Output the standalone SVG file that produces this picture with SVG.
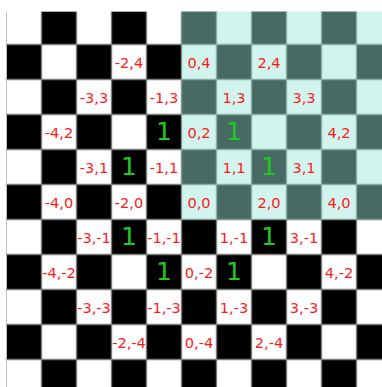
<svg xmlns="http://www.w3.org/2000/svg" width="382" height="387" viewBox="0 0 382 387">
<style>
.lbl{font-family:"DejaVu Sans","Liberation Sans",sans-serif;font-size:14.6px;fill:#ff1a1a;text-anchor:middle}
.one{font-family:"DejaVu Sans","Liberation Sans",sans-serif;font-size:25px;fill:#22c822;text-anchor:middle}
.grid line{stroke:#7c7c7c;stroke-width:1.4}
</style>
<defs>
<pattern id="chk" patternUnits="userSpaceOnUse" x="6.5" y="9.5" width="70" height="70">
<rect x="35" y="0" width="35" height="35" fill="#000"/>
<rect x="0" y="35" width="35" height="35" fill="#000"/>
</pattern>
</defs>
<rect width="382" height="387" fill="#fff"/>
<g id="board">
<rect x="6.5" y="11.7" width="375.5" height="375.3" fill="url(#chk)"/>
</g>
<g id="grid" class="grid">
<line x1="41.5" y1="11.7" x2="41.5" y2="387"/>
<line x1="76.5" y1="11.7" x2="76.5" y2="387"/>
<line x1="111.5" y1="11.7" x2="111.5" y2="387"/>
<line x1="146.5" y1="11.7" x2="146.5" y2="387"/>
<line x1="181.5" y1="11.7" x2="181.5" y2="387"/>
<line x1="216.5" y1="11.7" x2="216.5" y2="387"/>
<line x1="251.5" y1="11.7" x2="251.5" y2="387"/>
<line x1="286.5" y1="11.7" x2="286.5" y2="387"/>
<line x1="321.5" y1="11.7" x2="321.5" y2="387"/>
<line x1="356.5" y1="11.7" x2="356.5" y2="387"/>
<line x1="6.5" y1="44.5" x2="382" y2="44.5"/>
<line x1="6.5" y1="79.5" x2="382" y2="79.5"/>
<line x1="6.5" y1="114.5" x2="382" y2="114.5"/>
<line x1="6.5" y1="149.5" x2="382" y2="149.5"/>
<line x1="6.5" y1="184.5" x2="382" y2="184.5"/>
<line x1="6.5" y1="219.5" x2="382" y2="219.5"/>
<line x1="6.5" y1="254.5" x2="382" y2="254.5"/>
<line x1="6.5" y1="289.5" x2="382" y2="289.5"/>
<line x1="6.5" y1="324.5" x2="382" y2="324.5"/>
<line x1="6.5" y1="359.5" x2="382" y2="359.5"/>
</g>
<g id="quadrant">
<rect x="181.5" y="11.7" width="200.5" height="207.8" fill="#9de6d9" fill-opacity="0.46"/>
</g>
<g id="labels" class="lbl">
<text x="129" y="67.6">-2,4</text>
<text x="199" y="67.6">0,4</text>
<text x="269" y="67.6">2,4</text>
<text x="94" y="102.6">-3,3</text>
<text x="164" y="102.6">-1,3</text>
<text x="234" y="102.6">1,3</text>
<text x="304" y="102.6">3,3</text>
<text x="59" y="137.6">-4,2</text>
<text x="199" y="137.6">0,2</text>
<text x="339" y="137.6">4,2</text>
<text x="94" y="172.6">-3,1</text>
<text x="164" y="172.6">-1,1</text>
<text x="234" y="172.6">1,1</text>
<text x="304" y="172.6">3,1</text>
<text x="59" y="207.6">-4,0</text>
<text x="129" y="207.6">-2,0</text>
<text x="199" y="207.6">0,0</text>
<text x="269" y="207.6">2,0</text>
<text x="339" y="207.6">4,0</text>
<text x="94" y="242.6">-3,-1</text>
<text x="164" y="242.6">-1,-1</text>
<text x="234" y="242.6">1,-1</text>
<text x="304" y="242.6">3,-1</text>
<text x="59" y="277.6">-4,-2</text>
<text x="199" y="277.6">0,-2</text>
<text x="339" y="277.6">4,-2</text>
<text x="94" y="312.6">-3,-3</text>
<text x="164" y="312.6">-1,-3</text>
<text x="234" y="312.6">1,-3</text>
<text x="304" y="312.6">3,-3</text>
<text x="129" y="347.6">-2,-4</text>
<text x="199" y="347.6">0,-4</text>
<text x="269" y="347.6">2,-4</text>
</g>
<g id="moves" class="one">
<text x="164" y="139.9">1</text>
<text x="234" y="139.9">1</text>
<text x="129" y="174.9">1</text>
<text x="269" y="174.9">1</text>
<text x="129" y="244.9">1</text>
<text x="269" y="244.9">1</text>
<text x="164" y="279.9">1</text>
<text x="234" y="279.9">1</text>
</g>
</svg>
